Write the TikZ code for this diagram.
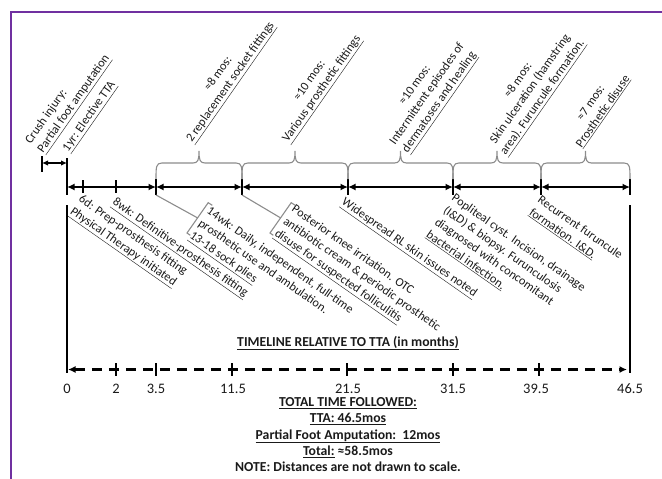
\documentclass[tikz,border=0pt]{standalone}
\usepackage{fontspec}
\setmainfont{Carlito}
\usetikzlibrary{arrows.meta,calc}
\definecolor{framec}{HTML}{7030A0}
\definecolor{bracec}{HTML}{8C8C8C}
\definecolor{txtc}{HTML}{1A1A1A}
\begin{document}
\begin{tikzpicture}[x=1pt,y=-1pt,
  rtext/.style={font=\fontsize{12.3}{14.8}\selectfont, text=txtc, inner sep=0pt, outer sep=0pt},
  uplabel/.style={rtext, rotate=55, anchor=south west},
  dnlabel/.style={rtext, rotate=-35, anchor=north west, align=left},
  seg/.style={line width=2.2pt, {Latex[length=7.5pt,width=7pt]}-{Latex[length=7.5pt,width=7pt]}},
  tickline/.style={line width=1.4pt},
  bracepath/.style={draw=bracec, line width=1.1pt},
  calloutline/.style={draw=bracec, line width=1.1pt},
  axisline/.style={line width=2.4pt, dash pattern=on 10.5pt off 6.5pt, {Latex[length=7.5pt,width=7pt]}-{Latex[length=7.5pt,width=7pt]}},
  numlabel/.style={font=\fontsize{14.5}{16}\selectfont, text=txtc, anchor=base, inner sep=0pt},
  boldtext/.style={font=\fontsize{13.7}{16.2}\selectfont\bfseries, text=txtc, inner sep=0pt, align=center},
]
\useasboundingbox (0,0) rectangle (662,479);
\draw[framec, line width=1.3pt] (11,479) -- (11,12) -- (662,12);

% main timeline coordinates
\coordinate (c0) at (42,163);
\coordinate (c1) at (67,163);
\coordinate (t0) at (67,187);
\coordinate (t1) at (156,187);
\coordinate (t2) at (242,187);
\coordinate (t3) at (348,187);
\coordinate (t4) at (453,187);
\coordinate (t5) at (541,187);
\coordinate (t6) at (630,187);

% crush injury interval
\draw[tickline] (42,156) -- (42,172);
\draw[line width=1.8pt, {Latex[length=6pt,width=5.5pt]}-{Latex[length=6pt,width=5.5pt]}] (c0) -- (c1);
\draw[tickline] (67,158) -- (67,195);
\foreach \x in {156,242,348,453,541,630} \draw[tickline] (\x,179) -- (\x,195);
\foreach \x in {83,116} \draw[tickline] (\x,180) -- (\x,193);

% segments
\draw[seg] (t0) -- (t1);
\draw[seg] (t1) -- (t2);
\draw[seg] (t2) -- (t3);
\draw[seg] (t3) -- (t4);
\draw[seg] (t4) -- (t5);
\draw[seg] (t5) -- (t6);

% braces
\foreach \a/\b in {156/242,242/348,348/453,453/541,541/630}{
  \pgfmathsetmacro{\m}{(\a+\b)/2}
  \draw[bracepath] (\a,179) .. controls (\a,167) and (\a,163) .. (\a+6,163) -- (\m-6,163) .. controls (\m-1,163) and (\m,160) .. (\m,151) .. controls (\m,160) and (\m+1,163) .. (\m+6,163) -- (\b-6,163) .. controls (\b,163) and (\b,167) .. (\b,179);
}

% upper labels
\node[uplabel, align=left] (crush) at (46.3,155.3) {Crush injury:\\\underline{Partial foot amputation}};
\node[uplabel] (tta) at (71.3,154.3) {\underline{1yr: Elective TTA}};
\node[uplabel, align=center] (b1) at (195.3,145.3) {≈8 mos:\\\underline{2 replacement socket fittings}};
\node[uplabel, align=center] (b2) at (291.3,145.3) {≈10 mos:\\\underline{Various prosthetic fittings}};
\node[uplabel, align=center] (b3) at (410.6,155.9) {≈10 mos:\\Intermittent episodes of\\\underline{dermatoses and healing}};
\node[uplabel, align=center] (b4) at (508.6,157.9) {≈8 mos:\\Skin ulceration (hamstring\\\underline{area). Furuncule formation.}};
\node[uplabel, align=center] (b5) at (583.3,149.3) {≈7 mos:\\\underline{Prosthetic disuse}};

% lower labels
\node[dnlabel] (d1) at (83,194) {6d: Prep-prosthesis fitting\\\underline{Physical Therapy initiated}};
\node[dnlabel] (d2) at (117,197) {\underline{8wk: Definitive-prosthesis fitting}};
\node[dnlabel] (d3) at (211,206) {14wk: Daily, independent, full-time\\prosthetic use and ambulation.\\\underline{13-18 sock plies}};
\node[dnlabel] (d4) at (296,204) {Posterior knee irritation. OTC\\antibiotic cream \& periodic prosthetic\\\underline{disuse for suspected folliculitis}};
\node[dnlabel] (d5) at (346,197) {\underline{Widespread RL skin issues noted}};
\node[dnlabel] (d6) at (456,193) {Popliteal cyst. Incision, drainage\\(I\&D) \& biopsy. Furunculosis\\diagnosed with concomitant\\\underline{bacterial infection.}};
\node[dnlabel] (d7) at (542,195) {Recurrent furuncule\\\underline{formation. I\&D.}};

% callouts
\coordinate (q1) at (156,195);
\coordinate (k1) at (197.6,217.9);
\draw[calloutline] (q1) -- (k1);
\draw[calloutline] (212.3,205.3) -- (208.2,202.7) -- (187,233) -- (190.3,235.3);
\coordinate (q2) at (242,195);
\coordinate (k2) at (280.6,217.9);
\draw[calloutline] (q2) -- (k2);
\draw[calloutline] (295.3,205.3) -- (291.2,202.7) -- (270,233) -- (273.3,235.3);

% long verticals
\draw[line width=1.5pt] (67,205) -- (67,373);
\draw[line width=1.5pt] (630,205) -- (630,373);

% dashed axis
\coordinate (a0) at (68,369.5);
\coordinate (a1) at (627,369.5);
\draw[axisline] (a0) -- (a1);
\foreach \x in {116,156,232,347,453,539} \draw[line width=1.5pt] (\x,363) -- (\x,376);
\foreach \x/\t [count=\i] in {67/0,116/2,156/3.5,233/11.5,348/21.5,453/31.5,536/39.5,630/46.5}
  \node[numlabel] (num\i) at (\x,393) {\t};

\node[boldtext, anchor=base] (title) at (348,346) {\underline{TIMELINE RELATIVE TO TTA (in months)}};
\node[boldtext, anchor=north] (total) at (348,397.5) {\underline{TOTAL TIME FOLLOWED:}\\\underline{TTA: 46.5mos}\\\underline{Partial Foot Amputation:\ \ 12mos}\\\underline{Total:} ≈58.5mos\\NOTE: Distances are not drawn to scale.};
\end{tikzpicture}
\end{document}
